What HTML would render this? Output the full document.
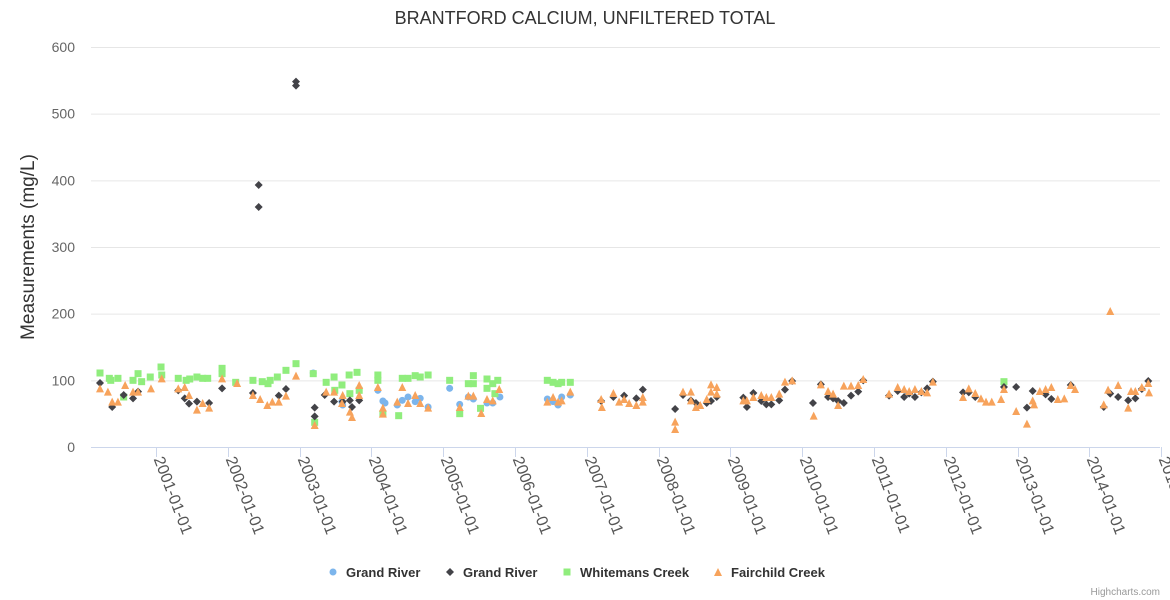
<!DOCTYPE html>
<html><head><meta charset="utf-8">
<style>
html,body{margin:0;padding:0;background:#fff;}
svg{display:block;font-family:"Liberation Sans",sans-serif;}
</style></head>
<body>
<svg id="chart" width="1170" height="600" xmlns="http://www.w3.org/2000/svg">
<text x="585" y="24" text-anchor="middle" font-size="18" fill="#333">BRANTFORD CALCIUM, UNFILTERED TOTAL</text>
<text transform="translate(34,247) rotate(-90)" text-anchor="middle" font-size="19" fill="#333">Measurements (mg/L)</text>
<g id="grid"></g>
<g id="yticks"></g>
<g id="xaxis"></g>
<g id="marks"></g>
<g>
 <g><circle cx="333" cy="572" r="3.5" fill="#7cb5ec"/><text x="346" y="577" font-size="13" font-weight="bold" fill="#333">Grand River</text></g>
 <g><path d="M450 568 L454 572 L450 576 L446 572 Z" fill="#434348"/><text x="463" y="577" font-size="13" font-weight="bold" fill="#333">Grand River</text></g>
 <g><rect x="563.5" y="568.5" width="7" height="7" fill="#90ed7d"/><text x="580" y="577" font-size="13" font-weight="bold" fill="#333">Whitemans Creek</text></g>
 <g><path d="M718 568 L722 576 L714 576 Z" fill="#f7a35c"/><text x="731" y="577" font-size="13" font-weight="bold" fill="#333">Fairchild Creek</text></g>
</g>
<text x="1160" y="595" text-anchor="end" font-size="10" fill="#999">Highcharts.com</text>
</svg>
<script>
const yTicks=[0,100,200,300,400,500,600];
const xTickYears=[2001,2002,2003,2004,2005,2006,2007,2008,2009,2010,2011,2012,2013,2014,2015];
const grandRiverBlue=[[2003.19,111],[2003.59,68],[2003.60,63],[2004.09,85],[2004.16,69],[2004.19,66],[2004.36,63],[2004.43,70],[2004.51,75],[2004.61,68],[2004.68,73],[2004.79,60],[2005.09,88],[2005.23,64],[2005.35,75],[2005.42,72],[2005.61,66],[2005.69,66],[2005.79,75],[2006.45,72],[2006.53,68],[2006.60,63],[2006.65,75],[2006.77,78]];
const grandRiverBlack=[[2000.22,96],[2000.39,60],[2000.55,78],[2000.68,73],[2000.75,83],[2001.31,85],[2001.40,73],[2001.46,65],[2001.57,68],[2001.74,66],[2001.92,88],[2002.35,81],[2002.43,393],[2002.43,360],[2002.71,77],[2002.81,87],[2002.95,548],[2002.95,542],[2003.21,59],[2003.21,46],[2003.35,78],[2003.48,68],[2003.60,68],[2003.70,70],[2003.73,60],[2003.83,70],[2007.20,69],[2007.37,75],[2007.52,77],[2007.69,73],[2007.78,86],[2008.23,57],[2008.34,78],[2008.45,70],[2008.52,66],[2008.67,66],[2008.73,69],[2008.81,75],[2009.18,74],[2009.23,60],[2009.32,81],[2009.43,69],[2009.50,64],[2009.57,64],[2009.68,70],[2009.76,86],[2009.86,99],[2010.15,66],[2010.26,94],[2010.36,75],[2010.43,73],[2010.50,69],[2010.58,66],[2010.68,77],[2010.78,83],[2010.85,100],[2011.21,77],[2011.33,84],[2011.42,75],[2011.49,80],[2011.57,75],[2011.66,82],[2011.74,88],[2011.82,98],[2012.24,82],[2012.32,82],[2012.41,75],[2012.81,90],[2012.98,90],[2013.13,59],[2013.21,84],[2013.39,79],[2013.47,72],[2013.74,93],[2014.20,60],[2014.29,80],[2014.40,75],[2014.54,70],[2014.64,73],[2014.73,87],[2014.82,99]];
const whitemansCreek=[[2000.22,111],[2000.35,103],[2000.37,100],[2000.47,103],[2000.55,75],[2000.68,100],[2000.75,110],[2000.80,98],[2000.92,105],[2001.07,120],[2001.08,108],[2001.31,103],[2001.42,100],[2001.47,102],[2001.57,105],[2001.65,103],[2001.72,103],[2001.92,118],[2001.92,110],[2002.11,97],[2002.35,100],[2002.48,98],[2002.56,95],[2002.59,100],[2002.69,105],[2002.81,115],[2002.95,125],[2003.19,110],[2003.21,37],[2003.37,97],[2003.49,85],[2003.48,105],[2003.59,93],[2003.69,108],[2003.70,80],[2003.80,112],[2003.83,85],[2004.09,108],[2004.09,100],[2004.16,50],[2004.38,47],[2004.43,103],[2004.51,103],[2004.61,107],[2004.68,105],[2004.79,108],[2005.09,100],[2005.23,50],[2005.35,95],[2005.42,107],[2005.42,95],[2005.52,58],[2005.61,102],[2005.61,88],[2005.69,95],[2005.72,80],[2005.76,100],[2006.45,100],[2006.53,97],[2006.60,95],[2006.65,97],[2006.77,97],[2012.81,98]];
const fairchildCreek=[[2000.22,88],[2000.33,83],[2000.39,68],[2000.47,68],[2000.57,93],[2000.68,83],[2000.75,83],[2000.93,88],[2001.08,103],[2001.31,88],[2001.40,90],[2001.46,78],[2001.57,56],[2001.65,66],[2001.74,59],[2001.92,103],[2002.13,96],[2002.35,78],[2002.45,72],[2002.55,63],[2002.62,68],[2002.71,68],[2002.81,77],[2002.95,107],[2003.21,33],[2003.37,83],[2003.48,83],[2003.60,78],[2003.59,66],[2003.70,53],[2003.73,45],[2003.83,93],[2003.83,78],[2004.09,90],[2004.16,59],[2004.16,50],[2004.36,68],[2004.43,90],[2004.51,66],[2004.61,78],[2004.68,66],[2004.79,59],[2005.23,60],[2005.35,77],[2005.42,77],[2005.53,51],[2005.61,72],[2005.69,70],[2005.78,87],[2006.45,68],[2006.53,75],[2006.60,68],[2006.65,70],[2006.77,83],[2007.20,72],[2007.21,60],[2007.37,81],[2007.45,68],[2007.52,72],[2007.59,66],[2007.69,63],[2007.78,68],[2007.78,75],[2008.23,38],[2008.23,27],[2008.34,83],[2008.45,83],[2008.45,70],[2008.52,60],[2008.58,63],[2008.67,72],[2008.73,94],[2008.73,83],[2008.81,90],[2008.81,80],[2009.18,70],[2009.23,70],[2009.32,75],[2009.43,78],[2009.50,75],[2009.57,75],[2009.68,80],[2009.76,98],[2009.86,100],[2010.16,47],[2010.26,94],[2010.36,84],[2010.43,80],[2010.50,63],[2010.58,92],[2010.68,92],[2010.78,93],[2010.85,102],[2011.21,80],[2011.33,90],[2011.42,87],[2011.49,84],[2011.57,87],[2011.66,84],[2011.74,82],[2011.82,98],[2012.24,75],[2012.32,88],[2012.41,81],[2012.49,73],[2012.56,68],[2012.64,68],[2012.77,72],[2012.81,87],[2012.98,54],[2013.13,35],[2013.21,70],[2013.23,64],[2013.31,84],[2013.39,87],[2013.47,90],[2013.56,72],[2013.65,73],[2013.74,93],[2013.80,87],[2014.20,64],[2014.26,86],[2014.29,204],[2014.40,93],[2014.54,59],[2014.58,84],[2014.64,84],[2014.73,90],[2014.82,96],[2014.83,82]];

const NS="http://www.w3.org/2000/svg";
const L=91,R=1160,T=47,B=447;
function xs(yr){return 156+(yr-2001)*71.8;}
function ys(v){return B-(v/600)*(B-T);}
function mk(tag,attrs,parent){const e=document.createElementNS(NS,tag);for(const k in attrs)e.setAttribute(k,attrs[k]);parent.appendChild(e);return e;}

const grid=document.getElementById('grid'),yt=document.getElementById('yticks'),xa=document.getElementById('xaxis'),marks=document.getElementById('marks');
yTicks.forEach(v=>{
  if(v>0){const g=mk('line',{x1:L,x2:R,y1:ys(v)+0.5,y2:ys(v)+0.5,stroke:'#e6e6e6'},grid);
  
  }
  const t=mk('text',{x:75,y:ys(v)+5,'text-anchor':'end','font-size':'14',fill:'#666'},yt);
  t.textContent=v;
  
  
});
const ax=mk('line',{x1:L,x2:R,y1:B+0.5,y2:B+0.5,stroke:'#ccd6eb'},xa);


xTickYears.forEach(yr=>{
  const x=Math.round(xs(yr))+0.5;
  const tk=mk('line',{x1:x,x2:x,y1:B,y2:B+10,stroke:'#ccd6eb'},xa);
  
  
  const t=mk('text',{transform:'translate('+(x-3)+','+(B+12)+') rotate(69)','font-size':'16',fill:'#555'},xa);
  t.textContent=yr+'-01-01';
  
  
});
grandRiverBlue.forEach(d=>{
  const c=mk('circle',{cx:xs(d[0]),cy:ys(d[1]),r:3.5,fill:'#7cb5ec'},marks);
  
  
});
whitemansCreek.forEach(d=>{
  const x=xs(d[0]),y=ys(d[1]);
  const r=mk('rect',{x:x-3.5,y:y-3.5,width:7,height:7,fill:'#90ed7d'},marks);
  
  
});
grandRiverBlack.forEach(d=>{
  const x=xs(d[0]),y=ys(d[1]);
  const p=mk('path',{d:'M'+x+' '+(y-4)+' L'+(x+4)+' '+y+' L'+x+' '+(y+4)+' L'+(x-4)+' '+y+' Z',fill:'#434348'},marks);
  
  
});
fairchildCreek.forEach(d=>{
  const x=xs(d[0]),y=ys(d[1]);
  const p=mk('path',{d:'M'+x+' '+(y-4)+' L'+(x+4)+' '+(y+4)+' L'+(x-4)+' '+(y+4)+' Z',fill:'#f7a35c'},marks);
  
  
});
</script>
</body></html>
